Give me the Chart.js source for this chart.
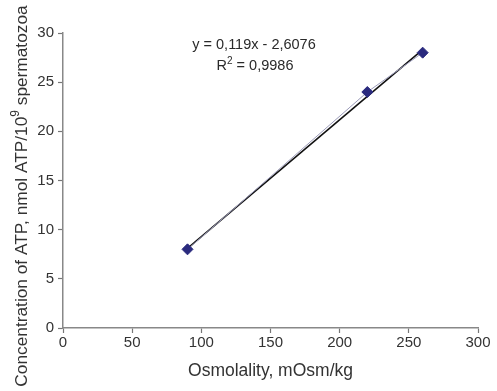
<!DOCTYPE html>
<html><head><meta charset="utf-8">
<script src="https://cdn.jsdelivr.net/npm/chart.js@4"></script>
<style>html,body{margin:0;padding:0;background:#fff}#w{width:497px;height:391px}</style>
</head><body><div id="w"><canvas id="c"></canvas></div>
<script>
const osmolality = [90, 220, 260];
const atpConcentration = [8, 24, 28];
const trendX = [90, 260];
const trendY = [8.1, 28.3];
const xTicks = [0, 50, 100, 150, 200, 250, 300];
const yTicks = [0, 5, 10, 15, 20, 25, 30];
const equationLine = "y = 0,119x - 2,6076";
const r2Parts = ["R", "2", " = 0,9986"];
const yTitleParts = ["Concentration of ATP, nmol ATP/10", "9", " spermatozoa"];

const font = "'Liberation Sans', Arial, sans-serif";
function drawSup(ctx, parts, cx, cy, size) {
  const big = size + 'px ' + font, small = Math.round(size * 0.7) + 'px ' + font;
  ctx.font = big; const w0 = ctx.measureText(parts[0]).width, w2 = ctx.measureText(parts[2]).width;
  ctx.font = small; const w1 = ctx.measureText(parts[1]).width;
  let x = cx - (w0 + w1 + w2) / 2;
  ctx.textAlign = 'left'; ctx.textBaseline = 'middle';
  ctx.font = big; ctx.fillText(parts[0], x, cy); x += w0;
  ctx.font = small; ctx.fillText(parts[1], x, cy - size * 0.35); x += w1;
  ctx.font = big; ctx.fillText(parts[2], x, cy);
}
const textPlugin = {
  id: 'texts',
  afterDraw(chart) {
    const ctx = chart.ctx;
    ctx.save();
    ctx.fillStyle = '#2a2a2a';
    ctx.font = '14.5px ' + font;
    ctx.textAlign = 'center';
    ctx.textBaseline = 'middle';
    ctx.fillText(equationLine, 254, 45);
    drawSup(ctx, r2Parts, 255, 66, 14.5);
    ctx.restore();
    ctx.save();
    ctx.fillStyle = '#333';
    ctx.translate(22, 196);
    ctx.rotate(-Math.PI / 2);
    drawSup(ctx, yTitleParts, 0, 0, 17.3);
    ctx.restore();
  }
};
new Chart(document.getElementById('c'), {
  type: 'scatter',
  data: {
    datasets: [
      { data: osmolality.map((x, i) => ({x, y: atpConcentration[i]})), showLine: true,
        borderColor: '#9a9ab8', borderWidth: 1, backgroundColor: '#2a2a7e',
        pointStyle: 'rectRot', pointRadius: 5.5, pointBorderColor: '#2a2a7e', order: 1 },
      { data: trendX.map((x, i) => ({x, y: trendY[i]})), showLine: true,
        borderColor: '#111', borderWidth: 1.6, pointRadius: 0, order: 2 }
    ]
  },
  options: {
    animation: false, responsive: true, maintainAspectRatio: false,
    layout: { padding: { top: 33, right: 19, left: 0, bottom: 0 } },
    plugins: { legend: { display: false }, tooltip: { enabled: false } },
    scales: {
      x: { type: 'linear', min: 0, max: 300,
        afterBuildTicks: s => { s.ticks = xTicks.map(v => ({value: v})); },
        afterFit: s => { s.height = 63; },
        grid: { display: true, drawOnChartArea: false, drawTicks: true, tickLength: 5, tickColor: '#777', tickWidth: 1.2 },
        border: { color: '#888', width: 1.5 },
        ticks: { color: '#333', font: { family: font, size: 15 }, padding: 1, maxRotation: 0 },
        title: { display: true, text: 'Osmolality, mOsm/kg', color: '#333', font: { family: font, size: 17.5 }, padding: { top: 0, bottom: 9 } } },
      y: { min: 0, max: 30,
        afterBuildTicks: s => { s.ticks = yTicks.map(v => ({value: v})); },
        afterFit: s => { s.width = 63; },
        grid: { display: true, drawOnChartArea: false, drawTicks: true, tickLength: 5, tickColor: '#777', tickWidth: 1.2 },
        border: { color: '#888', width: 1.5 },
        ticks: { color: '#333', font: { family: font, size: 15 }, padding: 4 },
        title: { display: false } }
    }
  },
  plugins: [textPlugin]
});
</script></body></html>
